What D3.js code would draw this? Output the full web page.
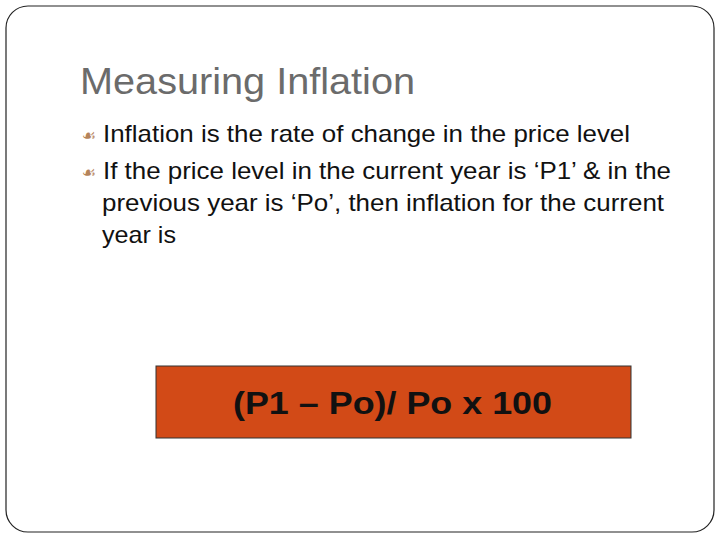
<!DOCTYPE html><html><head><meta charset="utf-8"><script src="https://cdn.jsdelivr.net/npm/d3@7"></script>
<style>body{margin:0;background:#fff}</style></head><body><script>
const title = "Measuring Inflation";
const bullets = [["Inflation is the rate of change in the price level"],
 ["If the price level in the current year is ‘P1’ & in the","previous year is ‘Po’, then inflation for the current","year is"]];
const formula = "(P1 – Po)/ Po x 100";
const svg = d3.select("body").append("svg").attr("width",720).attr("height",540);
svg.append("rect").attr("x",6).attr("y",6).attr("width",708).attr("height",526).attr("rx",22)
 .attr("fill","#fff").attr("stroke","#222").attr("stroke-width",1.2);
svg.append("text").attr("x",80).attr("y",94).attr("font-family","Liberation Sans, Arial").attr("font-size",36)
 .attr("fill","#6b6b6b").attr("textLength",335).attr("lengthAdjust","spacingAndGlyphs").text(title);
const ys=[[142],[179,211,243]];
const lens=[[527],[568,562,74]];
bullets.forEach((b,i)=>{
  svg.append("text").attr("x",82).attr("y",ys[i][0]-1).attr("font-family","DejaVu Sans").attr("font-size",16).attr("fill","#b5835a").text("☙");
  b.forEach((l,j)=>svg.append("text").attr("x",j?102:103).attr("y",ys[i][j]).attr("font-family","Liberation Sans, Arial").attr("font-size",24).attr("fill","#111")
    .attr("textLength",lens[i][j]).attr("lengthAdjust","spacingAndGlyphs").text(l));
});
svg.append("rect").attr("x",156).attr("y",366).attr("width",475).attr("height",72).attr("fill","#d24a17").attr("stroke","#333");
svg.append("text").attr("x",233).attr("y",414).attr("font-family","Liberation Sans, Arial").attr("font-weight","bold").attr("font-size",32).attr("fill","#111")
 .attr("textLength",319).attr("lengthAdjust","spacingAndGlyphs").text(formula);
</script></body></html>
